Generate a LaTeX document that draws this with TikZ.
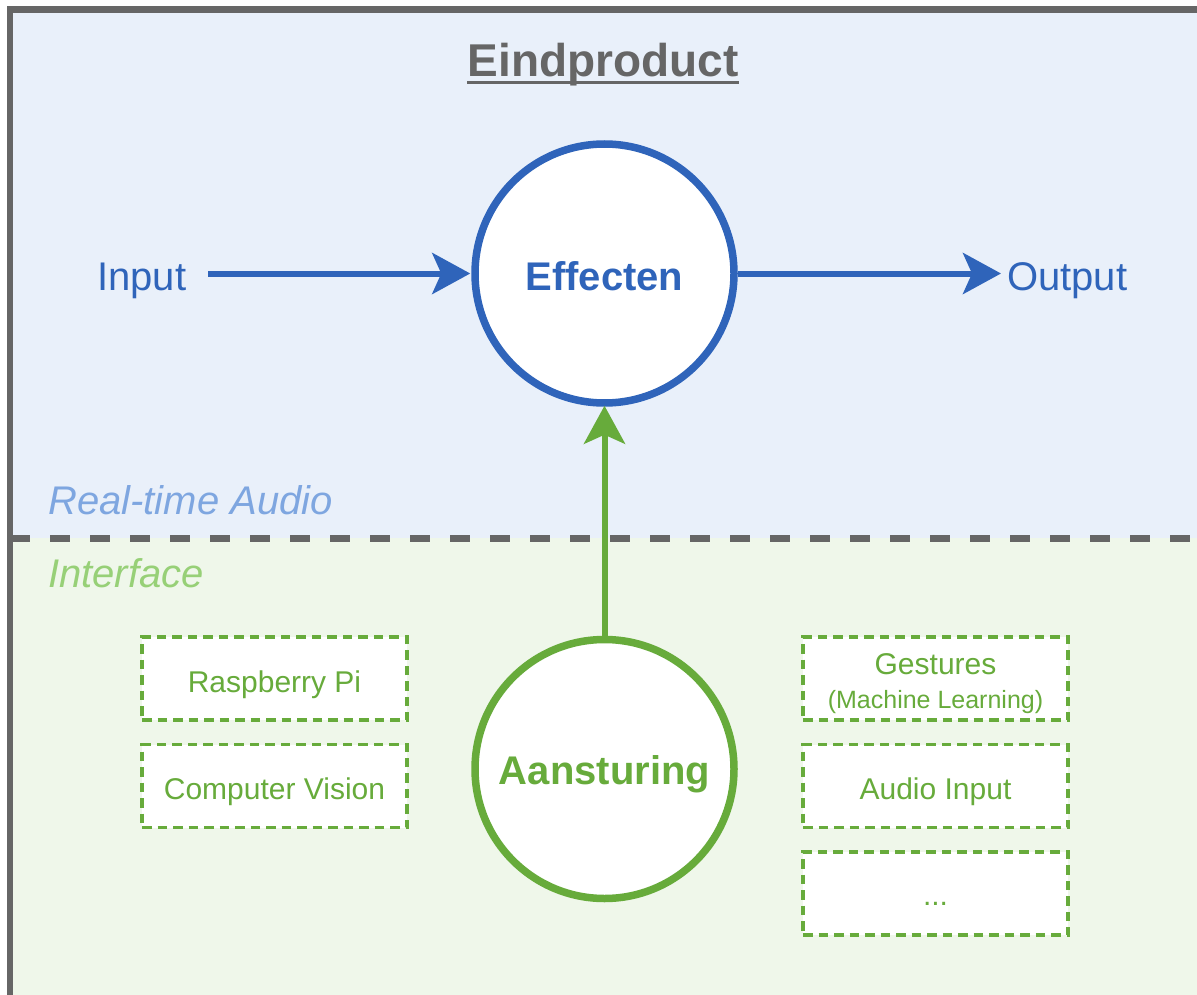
\documentclass[tikz,border=0pt]{standalone}
\usepackage{fontspec}
\setmainfont{Liberation Sans}
\usetikzlibrary{arrows.meta}
\definecolor{framegray}{HTML}{666666}
\definecolor{bluebg}{HTML}{E9F0FA}
\definecolor{greenbg}{HTML}{EFF7EA}
\definecolor{bluestroke}{HTML}{2F64BA}
\definecolor{greenstroke}{HTML}{67AB3B}
\definecolor{lightblue}{HTML}{7EA6E0}
\definecolor{lightgreen}{HTML}{97D077}
\tikzset{
  bigcircle/.style={circle, draw, line width=7.5pt, fill=white, minimum size=259pt, inner sep=0pt,
    font=\fontsize{40}{48}\selectfont\bfseries},
  optbox/.style={draw=greenstroke, line width=3.5pt, dash pattern=on 9.5pt off 6pt, fill=white,
    minimum width=265pt, minimum height=83pt, inner sep=0pt, text=greenstroke,
    font=\fontsize{30}{36}\selectfont, align=center},
  flow/.style={line width=6pt, -{Stealth[length=38pt,width=41pt,inset=9pt]}},
  bigtext/.style={font=\fontsize{40}{48}\selectfont, inner sep=0pt},
}
\begin{document}
\begin{tikzpicture}[x=1pt,y=-1pt]
\useasboundingbox (0,0) rectangle (1197,995);
\begin{scope}
\clip (0,0) rectangle (1197,995);
\fill[bluebg] (10,9.5) rectangle (1210,538);
\fill[greenbg] (10,538) rectangle (1210,1010);
\draw[framegray, line width=6.5pt] (10,9.5) rectangle (1200,1010);
\draw[framegray, line width=7pt, dash pattern=on 20pt off 20pt] (10,538) -- (1200,538);
\end{scope}

\node[inner sep=0pt, text=framegray, font=\fontsize{46}{54}\selectfont\bfseries, anchor=base] (title) at (603,77) {Eindproduct};
\draw[framegray, line width=3pt] ([yshift=-5.5pt]title.base west) -- ([yshift=-5.5pt]title.base east);

\node[bigcircle, draw=bluestroke, text=bluestroke, text height=35pt] (eff) at (604.5,273.5) {Effecten};
\node[bigcircle, draw=greenstroke, text=greenstroke, text height=38.5pt] (ans) at (604.5,769) {Aansturing};

\node[bigtext, text=bluestroke, anchor=west, text height=36.6pt] (in) at (97,276) {Input};
\node[bigtext, text=bluestroke, anchor=west, text height=37.6pt] (out) at (1007,276) {Output};
\coordinate (inend) at (208,273.5);
\coordinate (outstart) at (1001,273.5);

\draw[flow, bluestroke] (inend) -- ([xshift=-1pt]eff.west);
\draw[flow, bluestroke] (eff.east) -- (outstart);
\draw[flow, greenstroke] (ans.north) -- ([yshift=1pt]eff.south);

\node[bigtext, text=lightblue, anchor=west, font=\fontsize{40}{48}\selectfont\itshape] (rta) at (48,500) {Real-time Audio};
\node[bigtext, text=lightgreen, anchor=west, font=\fontsize{40}{48}\selectfont\itshape] (intf) at (48,573) {Interface};

\node[optbox, text height=34pt] (rpi) at (274.5,678.5) {Raspberry Pi};
\node[optbox, text height=34pt] (cv) at (274.5,786) {Computer Vision};
\node[optbox] (gest) at (935.5,678.5) {\rule{0pt}{32pt}Gestures\\[-2pt]{\fontsize{25}{30}\selectfont (Machine Learning)}};
\node[optbox, text height=34pt] (ai) at (935.5,786) {Audio Input};
\node[optbox, text height=23pt] (more) at (935.5,893.5) {...};
\end{tikzpicture}
\end{document}
